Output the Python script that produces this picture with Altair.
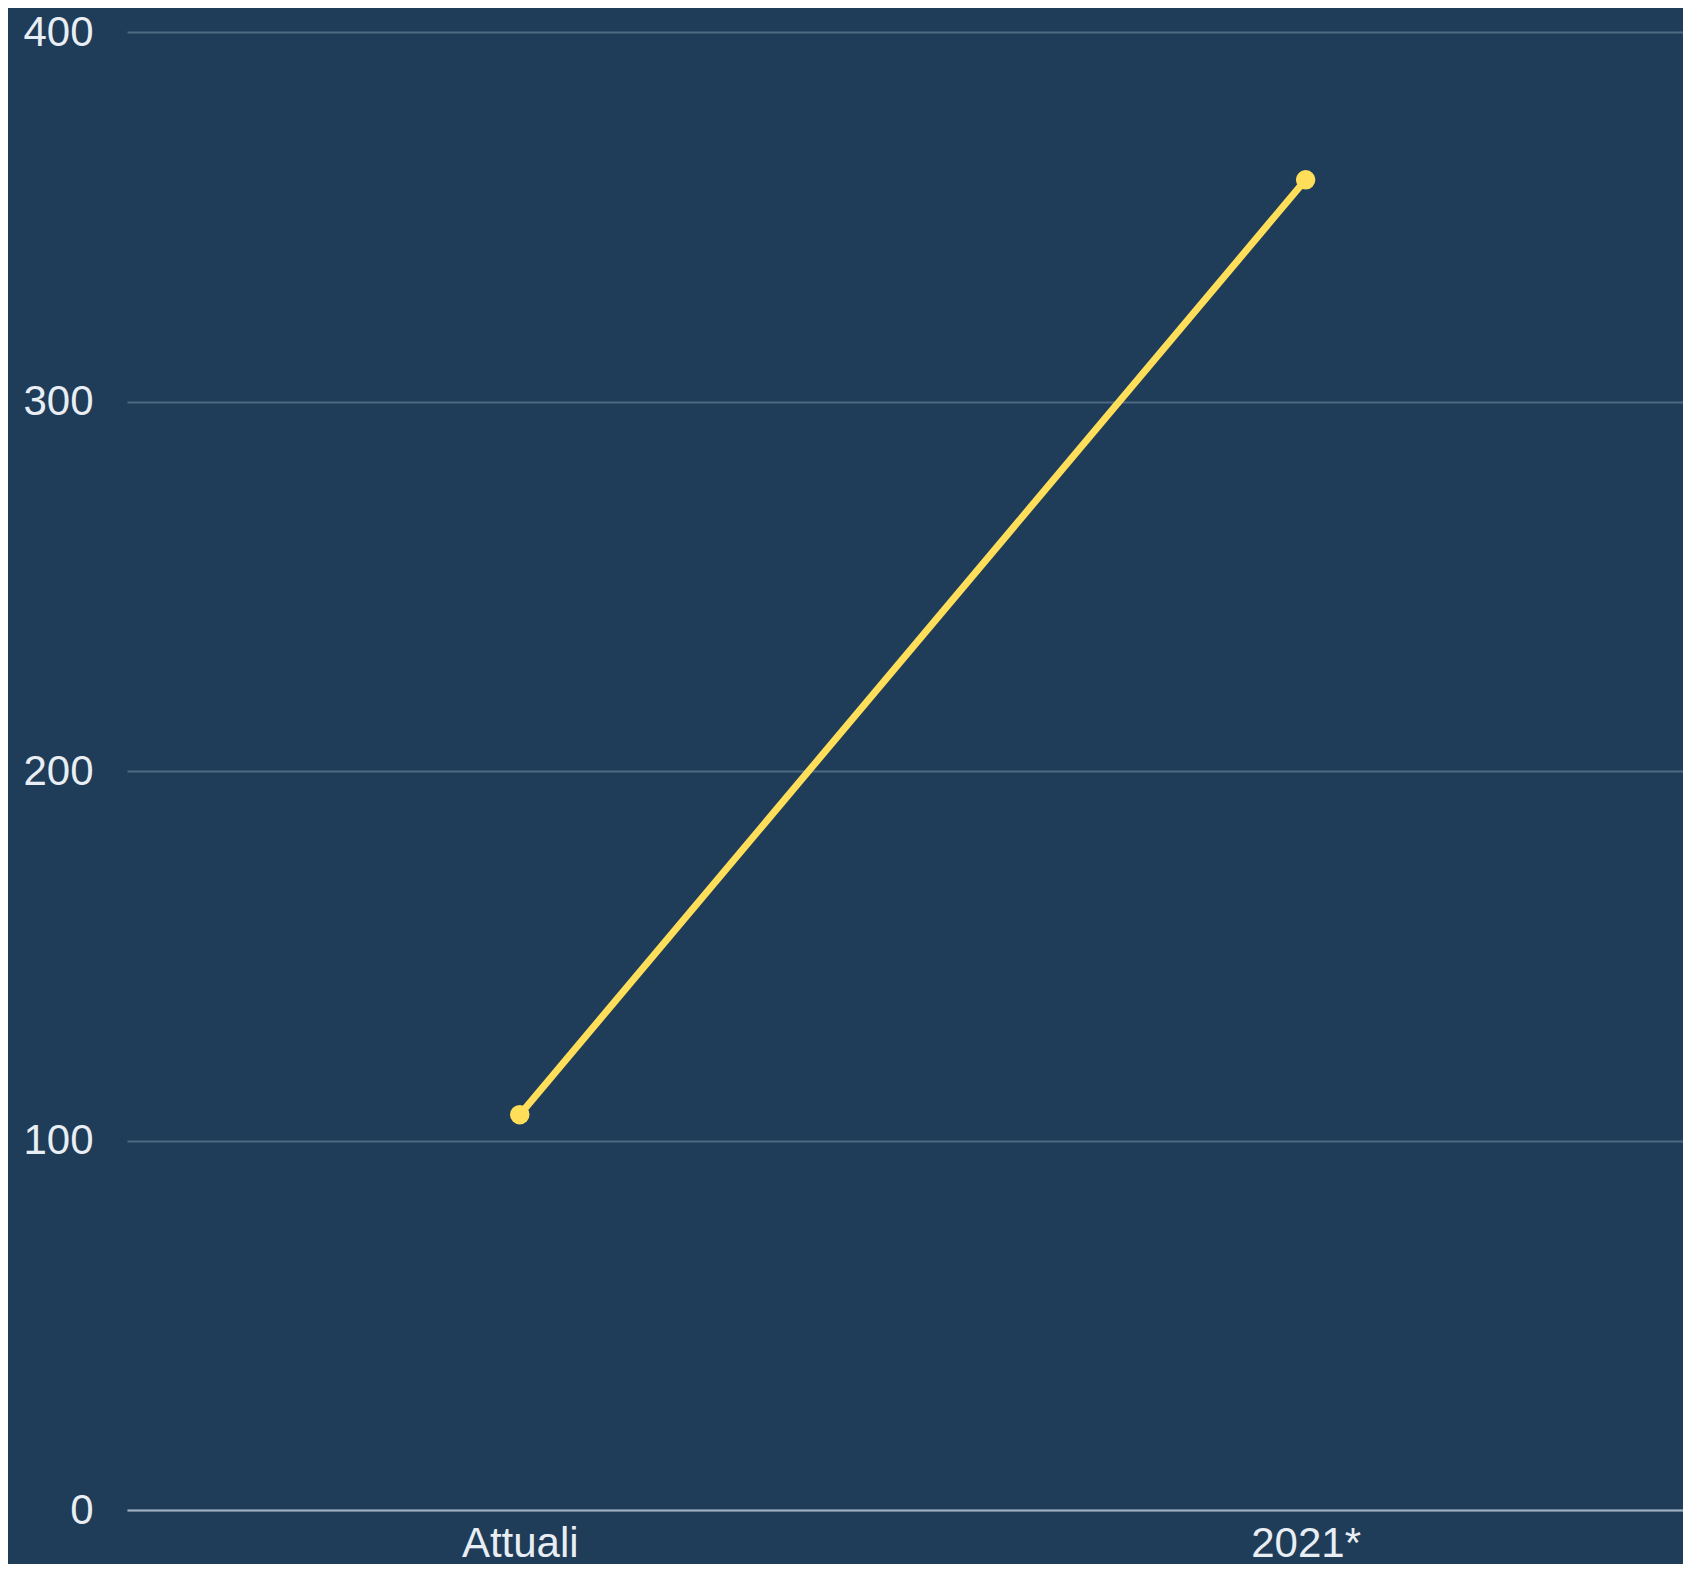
import altair as alt
import pandas as pd

categories = ["Attuali", "2021*"]
values = [107, 360]
y_ticks = [0, 100, 200, 300, 400]

df = pd.DataFrame({"cat": categories, "val": values})

x = alt.X("cat:N", sort=categories,
          scale=alt.Scale(type="point", padding=0.49, align=0.51),
          axis=alt.Axis(title=None, labelAngle=0, ticks=False, grid=False,
                        domain=True, domainColor="#9fb0bf", domainWidth=2,
                        labelFontSize=42, labelColor="#e8eef3",
                        labelFont="Liberation Sans", labelPadding=13))
y = alt.Y("val:Q", scale=alt.Scale(domain=[0, 400], nice=False),
          axis=alt.Axis(title=None, values=y_ticks, ticks=False, domain=False,
                        grid=True, gridColor="#4e6a83", gridWidth=2,
                        labelFontSize=42, labelColor="#e8eef3",
                        labelFont="Liberation Sans", labelPadding=34))

base = alt.Chart(df).encode(x=x, y=y)
line = base.mark_line(color="#ffdf5a", strokeWidth=7)
pts = base.mark_circle(color="#ffdf5a", size=380, opacity=1)

chart = (line + pts).properties(
    width=1556, height=1478,
    background="#1f3c59",
    padding={"left": 119, "top": 24, "right": 0, "bottom": 54},
    autosize=alt.AutoSizeParams(type="none"),
).configure_view(stroke=None)

chart.save("out.html", embed_options={"renderer": "svg", "actions": False})
